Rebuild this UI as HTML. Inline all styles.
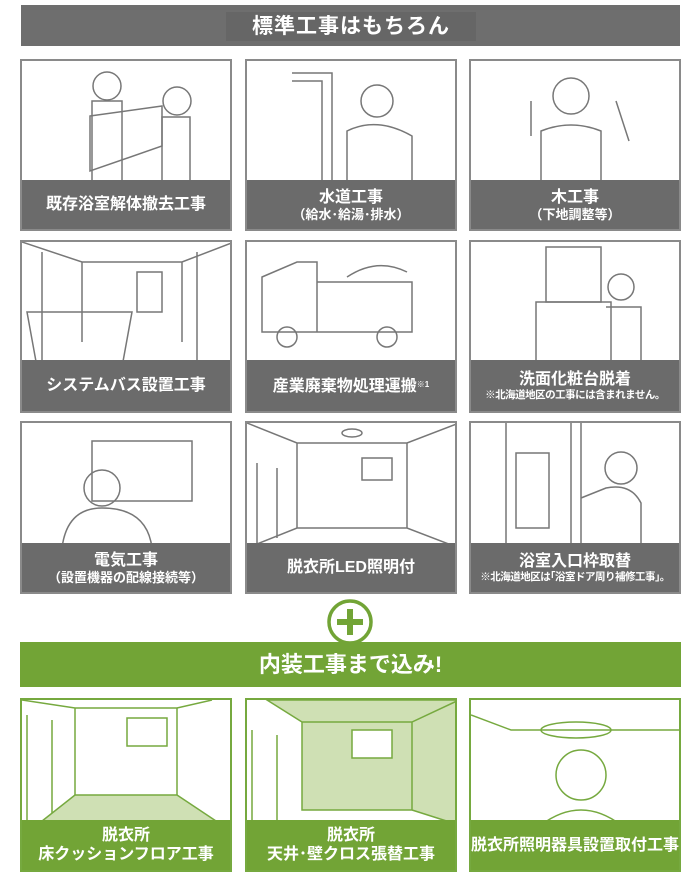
<!DOCTYPE html>
<html><head><meta charset="utf-8"><style>
*{margin:0;padding:0;box-sizing:border-box}
body{width:700px;height:890px;background:#fff;position:relative;overflow:hidden;font-family:"Liberation Sans","Noto Sans CJK JP",sans-serif;font-weight:bold}
.hdr{position:absolute;left:21px;top:5px;width:659px;height:41px;background:#6e6e6e}
.hdr .t{position:absolute;left:205px;top:7px;width:250px;height:29px;background:#666;color:#fff;font-size:21px;text-align:center;line-height:29px;letter-spacing:1px}
.card{position:absolute;width:212px;border:2px solid #8a8a8a;background:#fff;overflow:hidden}
.card svg{position:absolute;left:0;top:0}
.lab{position:absolute;left:0;right:0;bottom:0;background:#6b6b6b;color:#fff;text-align:center;display:flex;flex-direction:column;justify-content:center;font-size:16px;line-height:19px}
.lab small{font-size:13px;line-height:15px}
.lab .n{font-size:10.5px;line-height:13px;letter-spacing:-0.5px}
.g{border-color:#76a93f}
.g .lab{background:#72a436}
.ghdr{position:absolute;left:20px;top:642px;width:661px;height:45px;background:#72a436;color:#fff;font-size:22px;text-align:center;line-height:45px}
</style></head><body>
<div class="hdr"><div class="t">標準工事はもちろん</div></div>

<!-- row1 -->
<div class="card" style="left:20px;top:59px;height:172px">
<svg width="212" height="172" fill="none" stroke="#777" stroke-width="1.5"><circle cx="85" cy="25" r="14"/><rect x="70" y="40" width="30" height="80"/><circle cx="155" cy="40" r="14"/><rect x="140" y="56" width="28" height="70"/><path d="M68 55 L140 45 L140 85 L68 110Z"/></svg>
<div class="lab" style="height:49px">既存浴室解体撤去工事</div></div>
<div class="card" style="left:245px;top:59px;height:172px">
<svg width="212" height="172" fill="none" stroke="#777" stroke-width="1.5"><path d="M45 12 H85 V125 M45 20 H75 V125"/><circle cx="130" cy="40" r="16"/><path d="M100 70 Q130 55 165 75 V125 H100Z"/></svg>
<div class="lab" style="height:49px">水道工事<small>（給水･給湯･排水）</small></div></div>
<div class="card" style="left:469px;top:59px;height:172px">
<svg width="212" height="172" fill="none" stroke="#777" stroke-width="1.5"><circle cx="100" cy="35" r="18"/><path d="M70 70 Q100 58 130 70 V125 H70Z"/><path d="M60 40 V75 M145 40 L158 80"/></svg>
<div class="lab" style="height:49px">木工事<small>（下地調整等）</small></div></div>

<!-- row2 -->
<div class="card" style="left:20px;top:240px;height:173px">
<svg width="212" height="173" fill="none" stroke="#777" stroke-width="1.5"><path d="M0 0 L60 20 H160 L212 0 M60 20 V100 M160 20 V100 M20 10 V120 M175 10 V120"/><path d="M5 70 H110 L100 125 H15Z"/><rect x="115" y="30" width="25" height="40"/></svg>
<div class="lab" style="height:51px">システムバス設置工事</div></div>
<div class="card" style="left:245px;top:240px;height:173px">
<svg width="212" height="173" fill="none" stroke="#777" stroke-width="1.5"><path d="M15 35 L50 20 H70 V90 H15Z M70 40 H165 V90 H70"/><circle cx="40" cy="95" r="10"/><circle cx="140" cy="95" r="10"/><path d="M100 35 Q130 15 160 30"/></svg>
<div class="lab" style="height:51px"><span>産業廃棄物処理運搬<span style="font-size:8px;vertical-align:4px">※1</span></span></div></div>
<div class="card" style="left:469px;top:240px;height:173px">
<svg width="212" height="173" fill="none" stroke="#777" stroke-width="1.5"><rect x="75" y="5" width="55" height="55"/><rect x="65" y="60" width="75" height="62"/><circle cx="150" cy="45" r="13"/><path d="M135 65 H170 V122 H135"/></svg>
<div class="lab" style="height:51px">洗面化粧台脱着<span class="n">※北海道地区の工事には含まれません。</span></div></div>

<!-- row3 -->
<div class="card" style="left:20px;top:421px;height:173px">
<svg width="212" height="173" fill="none" stroke="#777" stroke-width="1.5"><rect x="70" y="18" width="100" height="60"/><circle cx="80" cy="65" r="18"/><path d="M40 125 Q45 85 80 85 Q125 85 130 125"/></svg>
<div class="lab" style="height:49px">電気工事<small>（設置機器の配線接続等）</small></div></div>
<div class="card" style="left:245px;top:421px;height:173px">
<svg width="212" height="173" fill="none" stroke="#777" stroke-width="1.5"><path d="M0 0 L50 20 H160 L212 0 M50 20 V105 M160 20 V105 M0 125 L50 105 H160 L212 125 M10 40 V125 M30 45 V115"/><rect x="115" y="35" width="30" height="22"/><ellipse cx="105" cy="10" rx="10" ry="4"/></svg>
<div class="lab" style="height:49px">脱衣所LED照明付</div></div>
<div class="card" style="left:469px;top:421px;height:173px">
<svg width="212" height="173" fill="none" stroke="#777" stroke-width="1.5"><path d="M35 0 V125 M100 0 V125 M110 0 V125"/><rect x="45" y="30" width="33" height="75"/><circle cx="150" cy="45" r="16"/><path d="M110 75 L135 65 Q160 60 170 80 V125 H125"/></svg>
<div class="lab" style="height:49px">浴室入口枠取替<span class="n">※北海道地区は｢浴室ドア周り補修工事｣。</span></div></div>

<svg style="position:absolute;left:326px;top:598px" width="48" height="48"><circle cx="24" cy="24" r="21" fill="#fff" stroke="#72a436" stroke-width="3.5"/><path d="M24 11 V37 M11 24 H37" stroke="#72a436" stroke-width="6"/></svg>
<div class="ghdr">内装工事まで込み!</div>

<div class="card g" style="left:20px;top:698px;height:174px">
<svg width="212" height="174" fill="none" stroke="#76a93f" stroke-width="1.5"><path d="M0 0 L53 8 H155 L190 0 M53 8 V95 M155 8 V95 M5 15 V125 M30 20 V120"/><path d="M53 95 H155 L200 125 H15Z" fill="#cfe0b4"/><rect x="105" y="18" width="40" height="28"/></svg>
<div class="lab" style="height:50px">脱衣所<span>床クッションフロア工事</span></div></div>
<div class="card g" style="left:245px;top:698px;height:174px">
<svg width="212" height="174" fill="none" stroke="#76a93f" stroke-width="1.5"><path d="M20 0 L55 22 H165 L212 0Z M55 22 H165 V110 H55Z M165 22 L212 0 V125 L165 110" fill="#cfe0b4"/><path d="M5 30 V125 M30 35 V125"/><rect x="105" y="30" width="40" height="28" fill="#fff"/></svg>
<div class="lab" style="height:50px">脱衣所<span>天井･壁クロス張替工事</span></div></div>
<div class="card g" style="left:469px;top:698px;height:174px">
<svg width="212" height="174" fill="none" stroke="#76a93f" stroke-width="1.5"><path d="M0 15 L40 30 H212"/><ellipse cx="105" cy="30" rx="35" ry="8"/><circle cx="110" cy="75" r="25"/><path d="M70 125 Q110 95 150 125"/></svg>
<div class="lab" style="height:50px">脱衣所照明器具設置取付工事</div></div>
</body></html>
